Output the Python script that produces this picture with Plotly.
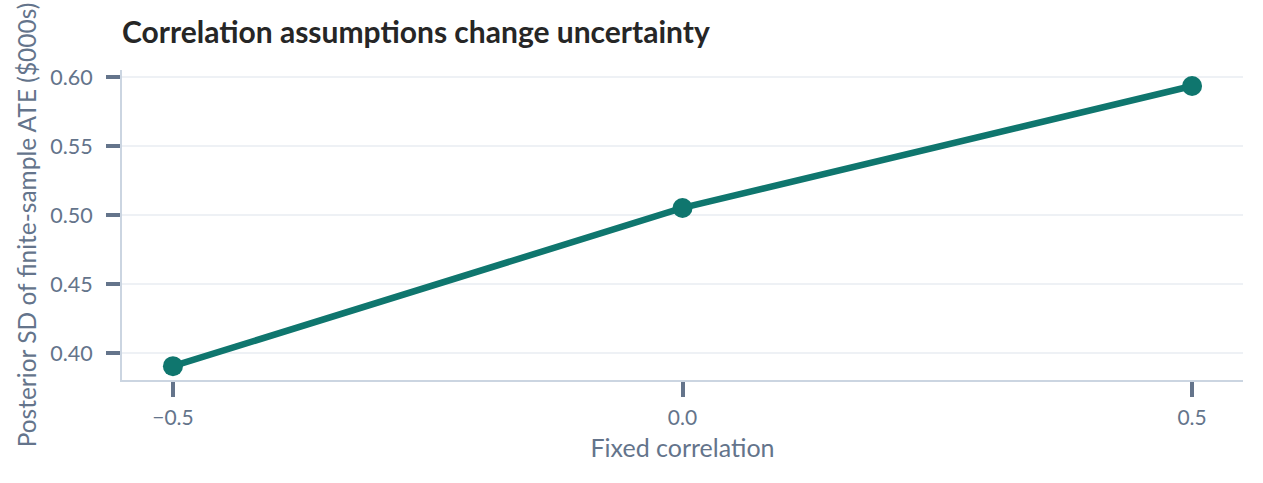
import plotly.graph_objects as go

correlations = [-0.5, 0.0, 0.5]
posterior_sd = [0.3906, 0.5052, 0.5935]
x_ticks = [-0.5, 0.0, 0.5]
x_tick_labels = ["−0.5", "0.0", "0.5"]
y_ticks = [0.40, 0.45, 0.50, 0.55, 0.60]
y_tick_labels = ["0.40", "0.45", "0.50", "0.55", "0.60"]

FONT = "Lato"
TEAL = "#0f766e"
SLATE = "#64748b"

W, H = 1263, 483

fig = go.Figure()
fig.add_trace(go.Scatter(
    x=correlations, y=posterior_sd, mode="lines+markers",
    line=dict(color=TEAL, width=6.5),
    marker=dict(color=TEAL, size=20),
    showlegend=False, hoverinfo="x+y",
))

fig.update_layout(
    width=W, height=H,
    margin=dict(l=122, r=20, t=70, b=103),
    paper_bgcolor="white", plot_bgcolor="white",
    font=dict(family=FONT, color=SLATE, size=20),
    title=dict(text="<b>Correlation assumptions change uncertainty</b>",
               x=122/W, xanchor="left", y=1-32/H, yanchor="middle",
               font=dict(family=FONT, size=30, color="#262626")),
    xaxis=dict(range=[-0.55, 0.55], tickvals=x_ticks, ticktext=x_tick_labels,
               showgrid=False, zeroline=False,
               showline=True, linecolor="#cbd5e1", linewidth=2,
               ticks="outside", ticklen=15, tickwidth=3.5, tickcolor=SLATE,
               ticklabelstandoff=3,
               tickfont=dict(size=21, color=SLATE),
               title=dict(text="Fixed correlation", font=dict(size=25, color=SLATE), standoff=11)),
    yaxis=dict(range=[0.3806, 0.6051], tickvals=y_ticks, ticktext=y_tick_labels,
               showgrid=True, gridcolor="#eef1f5", gridwidth=1.5, zeroline=False,
               showline=True, linecolor="#cbd5e1", linewidth=2,
               ticks="outside", ticklen=14, tickwidth=3.5, tickcolor=SLATE,
               ticklabelstandoff=9,
               tickfont=dict(size=21.5, color=SLATE),
               title=dict(text="Posterior SD of finite-sample ATE ($000s)", font=dict(size=24.5, color=SLATE), standoff=7)),
)

fig.write_html("out.html", config={"displayModeBar": False},
               post_script="document.body.style.margin='0';")
